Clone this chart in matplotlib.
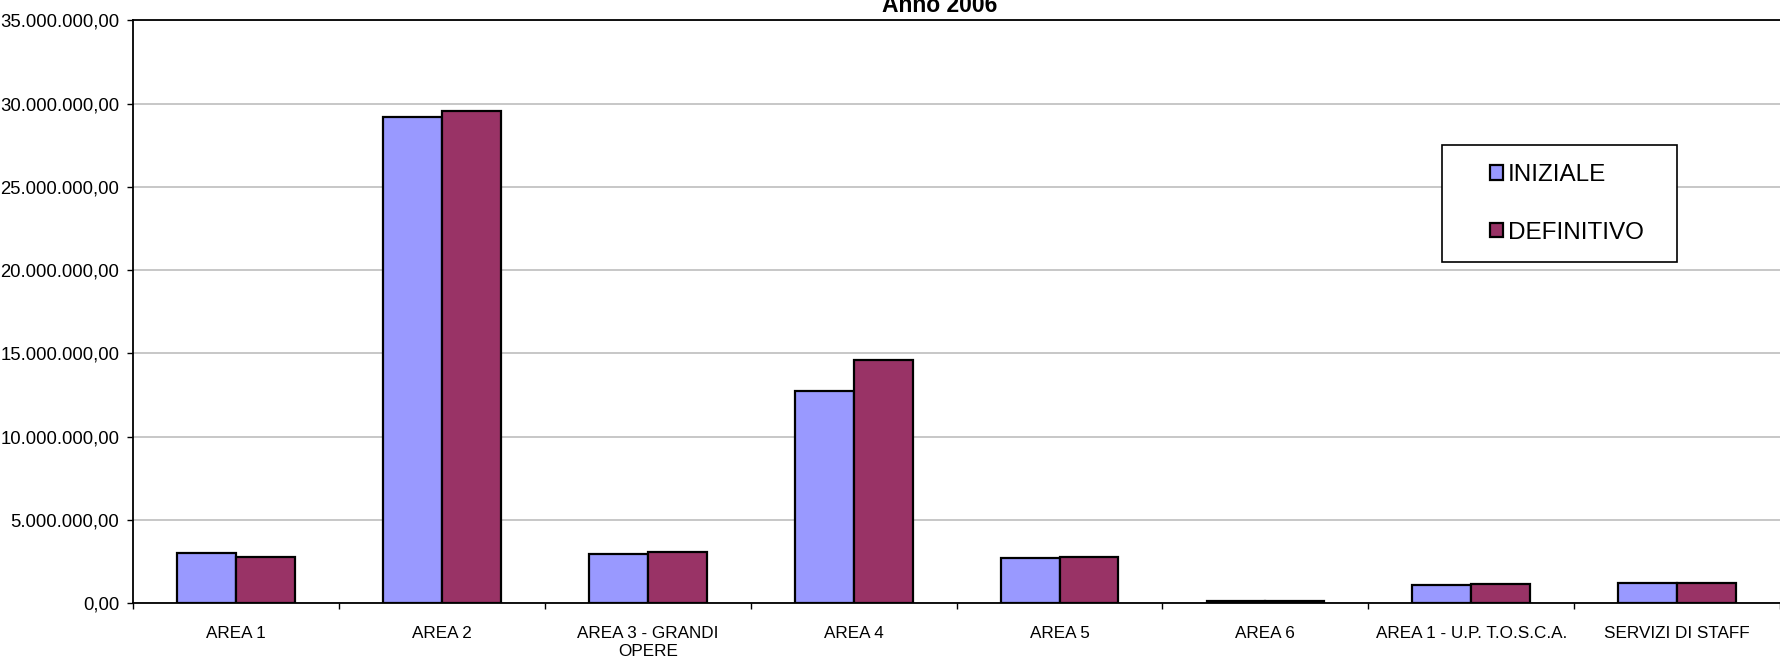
import matplotlib
matplotlib.use("Agg")
import matplotlib.pyplot as plt
import numpy as np
from matplotlib.ticker import FuncFormatter, FixedLocator

plt.rcParams["font.family"] = ["Liberation Sans", "DejaVu Sans"]

# data (euro)
categorie = ["AREA 1", "AREA 2", "AREA 3 - GRANDI\nOPERE", "AREA 4", "AREA 5",
             "AREA 6", "AREA 1 - U.P. T.O.S.C.A.", "SERVIZI DI STAFF"]
iniziale = [3040000, 29180000, 2960000, 12760000, 2740000, 130000, 1100000, 1220000]
definitivo = [2800000, 29580000, 3060000, 14620000, 2760000, 160000, 1140000, 1230000]
serie = ["INIZIALE", "DEFINITIVO"]
colori = ["#9999FF", "#993366"]
titolo = "Anno 2006"


def fmt_it(v, pos=None):
    s = f"{v:,.2f}"
    return s.replace(",", "X").replace(".", ",").replace("X", ".")


W, H = 1780, 659
fig = plt.figure(figsize=(W / 100, H / 100), dpi=100)
ax = fig.add_axes([133.3 / W, 1 - 603.3 / H, 1 - 133.3 / W, (603.3 - 20.3) / H])

x = np.arange(len(categorie))
bw = 0.286
b1 = ax.bar(x - bw / 2, iniziale, bw, color=colori[0], edgecolor="black",
            linewidth=1.6, label=serie[0], zorder=3)
b2 = ax.bar(x + bw / 2, definitivo, bw, color=colori[1], edgecolor="black",
            linewidth=1.6, label=serie[1], zorder=3)

ax.set_xlim(-0.5, len(categorie) - 0.5)
ax.set_ylim(0, 35000000)
ax.set_yticks(np.arange(0, 35000001, 5000000))
ax.yaxis.set_major_formatter(FuncFormatter(fmt_it))
ax.yaxis.grid(True, color="#BDBDBD", linewidth=1.2, zorder=0)
ax.set_axisbelow(True)

ax.set_xticks(x)
ax.set_xticklabels(categorie, fontsize=12.3, linespacing=1.3)
ax.xaxis.set_minor_locator(FixedLocator(np.arange(-0.5, len(categorie), 1)))
ax.tick_params(axis="x", which="major", length=0, pad=16)
ax.tick_params(axis="x", which="minor", length=4, width=1, direction="out")
ax.tick_params(axis="y", length=4, width=1, direction="out", pad=6, labelsize=13.3)

for s in ["left", "bottom", "top"]:
    ax.spines[s].set_color("black")
    ax.spines[s].set_linewidth(1.3)
ax.spines["right"].set_visible(False)

fig.text(940 / W, 1 - 12 / H, titolo, ha="center", va="baseline",
         fontsize=16.5, fontweight="bold")

# legend box
box = plt.Rectangle((1442 / W, 1 - 262 / H), 235 / W, 117 / H,
                    transform=fig.transFigure, facecolor="white",
                    edgecolor="black", linewidth=1.2, zorder=5)
fig.add_artist(box)
leg = fig.legend(handles=[b1, b2], loc="center left",
                 bbox_to_anchor=(1490 / W, 1 - 204 / H), frameon=False,
                 fontsize=17.5, handlelength=0.55, handleheight=0.55,
                 handletextpad=0.2, labelspacing=1.45, borderpad=0,
                 borderaxespad=0)
leg.set_zorder(6)

fig.savefig("out.png", dpi=100)
